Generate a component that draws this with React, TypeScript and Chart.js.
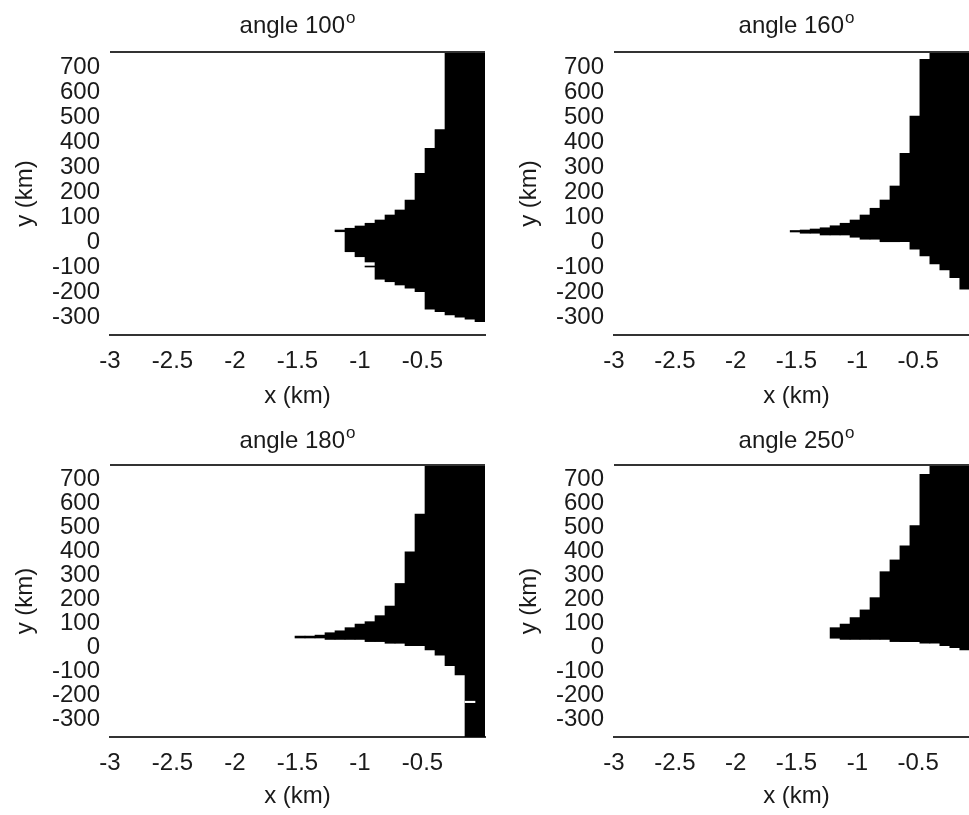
import React, { useEffect, useRef } from 'react';
import { Chart, registerables } from 'chart.js';

Chart.register(...registerables);

// ---------- data ----------
// column centres (km) of the model grid, left-hand and right-hand panels
const LEFT_COLUMN_X = [-1.56, -1.48, -1.4, -1.32, -1.24, -1.16, -1.08, -1.0, -0.92, -0.84, -0.76, -0.68, -0.6, -0.52, -0.44, -0.36, -0.28, -0.2, -0.12, -0.04];
const RIGHT_COLUMN_X = [-1.511, -1.429, -1.347, -1.265, -1.183, -1.101, -1.019, -0.937, -0.855, -0.773, -0.691, -0.609, -0.527, -0.445, -0.363, -0.281, -0.199, -0.117, -0.035, 0.047];

const X_TICKS = [-3, -2.5, -2, -1.5, -1, -0.5];
const Y_TICKS = [700, 600, 500, 400, 300, 200, 100, 0, -100, -200, -300];
const X_MIN = -3;
const X_MAX = 0;
const Y_MIN = -372;
const Y_MAX = 760;

const TITLES = ['angle 100', 'angle 160', 'angle 180', 'angle 250'];
const TITLE_SUP = 'o';
const X_LABEL = 'x (km)';
const Y_LABEL = 'y (km)';

// angle 100: top / bottom of the black region in each column (km-grid column, y in km*?)
const A100_TOP = [null, null, null, null, null, 48, 55, 64, 75, 88, 108, 128, 168, 275, 375, 450, 760, 760, 760, 760];
const A100_BOTTOM = [null, null, null, null, null, 41, -39, -59, -80, -149, -159, -172, -185, -199, -269, -279, -292, -301, -309, -319];
const A100_SLIVER_X = [-0.92];
const A100_SLIVER_TOP = [-96];
const A100_SLIVER_BOTTOM = [-100];

// angle 160
const A160_TOP = [46, 48, 52, 57, 65, 75, 88, 108, 135, 168, 224, 355, 504, 731, 760, 760, 760, 760, 760, 760];
const A160_BOTTOM = [40, 35, 35, 28, 28, 28, 19, 11, 11, 1, 1, 1, -29, -56, -88, -112, -143, -189, -230, -270];

// angle 180
const A180_TOP = [null, 48, 48, 52, 62, 70, 83, 98, 108, 133, 173, 267, 399, 556, 760, 760, 760, 760, 760, 760];
const A180_BOTTOM = [null, 40, 40, 40, 34, 34, 34, 34, 25, 25, 18, 18, 8, 8, -10, -31, -75, -114, -372, -372];
const A180_GAP_X = [-0.12];
const A180_GAP_TOP = [-223];
const A180_GAP_BOTTOM = [-229];

// angle 250
const A250_TOP = [null, null, null, null, 83, 98, 125, 157, 208, 316, 365, 424, 508, 721, 760, 760, 760, 760, 760, 760];
const A250_BOTTOM = [null, null, null, null, 39, 34, 34, 34, 34, 34, 25, 25, 25, 18, 18, 8, 0, -10, -15, -20];

// ---------- styling ----------
const FONT_FAMILY = "'Liberation Sans', Arial, Helvetica, sans-serif";
const TEXT_COLOR = '#1a1a1a';
const LINE_COLOR = '#333333';

function columns(xs: number[], bottoms: (number | null)[], tops: (number | null)[]) {
  const out: { x: number; y: [number, number] }[] = [];
  xs.forEach((x, i) => {
    const b = bottoms[i];
    const t = tops[i];
    if (b !== null && t !== null && b !== undefined && t !== undefined) out.push({ x, y: [b, t] });
  });
  return out;
}

const supTitlePlugin = {
  id: 'supTitle',
  afterDraw(chart: any, _args: any, opts: any) {
    const { ctx, chartArea } = chart;
    ctx.save();
    ctx.fillStyle = TEXT_COLOR;
    ctx.textBaseline = 'alphabetic';
    ctx.font = `${opts.size}px ${FONT_FAMILY}`;
    const w1 = ctx.measureText(opts.text).width;
    ctx.font = `${opts.supSize}px ${FONT_FAMILY}`;
    const w2 = ctx.measureText(opts.sup).width;
    const total = w1 + 1 + w2;
    const cx = (chartArea.left + chartArea.right) / 2;
    const x0 = cx - total / 2;
    ctx.textAlign = 'left';
    ctx.font = `${opts.size}px ${FONT_FAMILY}`;
    ctx.fillText(opts.text, x0, opts.baseline);
    ctx.font = `${opts.supSize}px ${FONT_FAMILY}`;
    ctx.fillText(opts.sup, x0 + w1 + 1, opts.baseline - opts.raise);
    ctx.restore();
  },
};

const frameTopPlugin = {
  id: 'frameTop',
  afterDatasetsDraw(chart: any) {
    const { ctx, chartArea } = chart;
    ctx.save();
    ctx.strokeStyle = LINE_COLOR;
    ctx.lineWidth = 2;
    ctx.beginPath();
    ctx.moveTo(chartArea.left, chartArea.top);
    ctx.lineTo(chartArea.right, chartArea.top);
    ctx.stroke();
    ctx.restore();
  },
};

type PanelSpec = {
  title: string;
  cols: number[];
  top: (number | null)[];
  bottom: (number | null)[];
  extra?: { x: number[]; top: number[]; bottom: number[]; color: string };
  box: { left: number; top: number; width: number; height: number };
  padTop: number;
  padRight: number;
  plotBottom: number;
  titleBaseline: number;
};

const PANELS: PanelSpec[] = [
  {
    title: TITLES[0], cols: LEFT_COLUMN_X, top: A100_TOP, bottom: A100_BOTTOM,
    extra: { x: A100_SLIVER_X, top: A100_SLIVER_TOP, bottom: A100_SLIVER_BOTTOM, color: '#000000' },
    box: { left: 0, top: 0, width: 490, height: 411 }, padTop: 52, padRight: 5, plotBottom: 335, titleBaseline: 33,
  },
  {
    title: TITLES[1], cols: RIGHT_COLUMN_X, top: A160_TOP, bottom: A160_BOTTOM,
    box: { left: 504, top: 0, width: 480, height: 411 }, padTop: 52, padRight: 5, plotBottom: 335, titleBaseline: 33,
  },
  {
    title: TITLES[2], cols: LEFT_COLUMN_X, top: A180_TOP, bottom: A180_BOTTOM,
    extra: { x: A180_GAP_X, top: A180_GAP_TOP, bottom: A180_GAP_BOTTOM, color: '#ffffff' },
    box: { left: 0, top: 413, width: 490, height: 398 }, padTop: 52, padRight: 5, plotBottom: 324, titleBaseline: 35,
  },
  {
    title: TITLES[3], cols: RIGHT_COLUMN_X, top: A250_TOP, bottom: A250_BOTTOM,
    box: { left: 504, top: 413, width: 480, height: 398 }, padTop: 52, padRight: 5, plotBottom: 324, titleBaseline: 35,
  },
];

function buildConfig(spec: PanelSpec): any {
  const datasets: any[] = [];
  if (spec.extra) {
    datasets.push({
      data: columns(spec.extra.x, spec.extra.bottom, spec.extra.top),
      backgroundColor: spec.extra.color,
      borderWidth: 0,
      grouped: false,
      barPercentage: 1,
      categoryPercentage: 1,
      order: 0,
    });
  }
  datasets.push({
    data: columns(spec.cols, spec.bottom, spec.top),
    backgroundColor: '#000000',
    borderWidth: 0,
    grouped: false,
    barPercentage: 1,
    categoryPercentage: 1,
    order: 1,
  });
  const tickFont = { family: FONT_FAMILY, size: 24 };
  const xScaleHeight = spec.box.height - spec.plotBottom;
  return {
    type: 'bar',
    data: { datasets },
    options: {
      animation: false,
      responsive: false,
      maintainAspectRatio: false,
      layout: { padding: { top: spec.padTop, right: spec.padRight, left: 0, bottom: 0 } },
      plugins: {
        legend: { display: false },
        tooltip: { enabled: false },
        title: { display: false },
        supTitle: { text: spec.title, sup: TITLE_SUP, size: 24, supSize: 17, raise: 10, baseline: spec.titleBaseline },
      },
      scales: {
        x: {
          type: 'linear',
          min: X_MIN,
          max: X_MAX,
          offset: false,
          grid: { display: false, drawTicks: false, offset: false },
          border: { display: true, color: LINE_COLOR, width: 2 },
          ticks: {
            font: tickFont,
            color: TEXT_COLOR,
            padding: 12,
            autoSkip: false,
            maxRotation: 0,
            minRotation: 0,
            callback: (v: number) => String(v),
          },
          afterBuildTicks: (s: any) => {
            s.ticks = X_TICKS.map((value) => ({ value }));
          },
          afterFit: (s: any) => {
            s.height = xScaleHeight;
          },
          title: { display: true, text: X_LABEL, font: tickFont, color: TEXT_COLOR, padding: { top: 0, bottom: 0 } },
        },
        y: {
          type: 'linear',
          min: Y_MIN,
          max: Y_MAX,
          grid: { display: false, drawTicks: false },
          border: { display: false },
          ticks: {
            font: tickFont,
            color: TEXT_COLOR,
            padding: 10,
            autoSkip: false,
            callback: (v: number) => String(v),
          },
          afterBuildTicks: (s: any) => {
            s.ticks = Y_TICKS.map((value) => ({ value }));
          },
          afterFit: (s: any) => {
            s.width = 110;
          },
          title: { display: true, text: Y_LABEL, font: tickFont, color: TEXT_COLOR, padding: { top: 11, bottom: 0 } },
        },
      },
    },
    plugins: [supTitlePlugin, frameTopPlugin],
  };
}

function Panel({ spec }: { spec: PanelSpec }) {
  const ref = useRef<HTMLCanvasElement | null>(null);
  useEffect(() => {
    if (!ref.current) return;
    const chart = new Chart(ref.current, buildConfig(spec));
    return () => chart.destroy();
  }, [spec]);
  return (
    <canvas
      ref={ref}
      width={spec.box.width}
      height={spec.box.height}
      style={{ position: 'absolute', left: spec.box.left, top: spec.box.top, width: spec.box.width, height: spec.box.height }}
    />
  );
}

export default function App() {
  return (
    <div style={{ position: 'absolute', left: 0, top: 0, width: 969, height: 815, overflow: 'hidden', background: '#ffffff' }}>
      {PANELS.map((p, i) => (
        <Panel key={i} spec={p} />
      ))}
    </div>
  );
}
